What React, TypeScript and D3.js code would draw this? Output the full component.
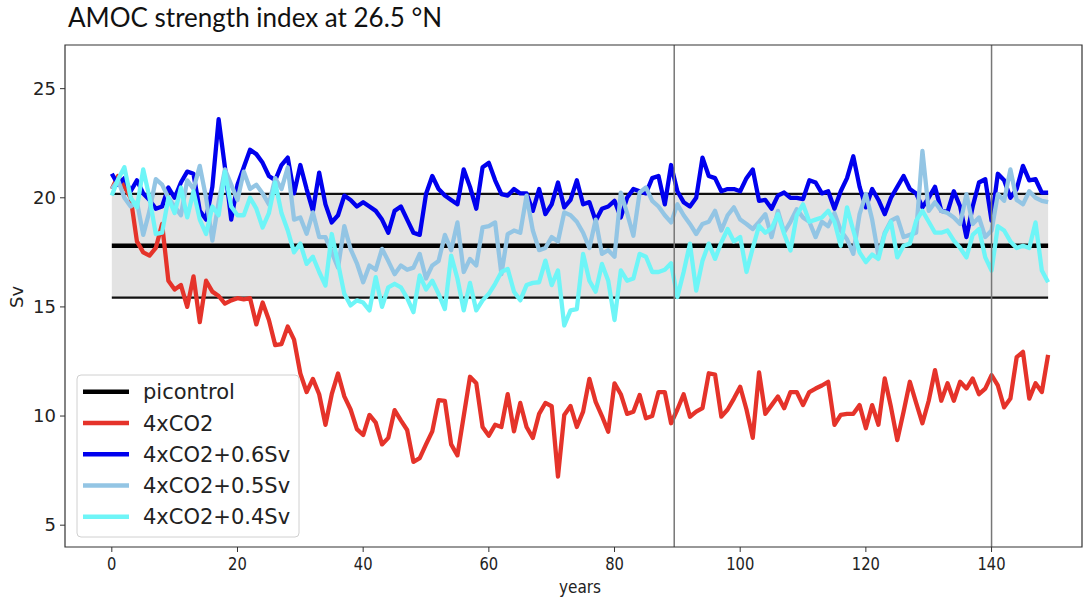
import React from "react";
import * as d3 from "d3";

const years: number[] = Array.from({ length: 150 }, (_, i) => i);

const co2: number[] = [
  20.4, 21.0, 20.5, 20.0, 18.0, 17.5, 17.35, 17.7, 18.8, 16.2,
  15.8, 16.0, 15.0, 16.4, 14.3, 16.2, 15.7, 15.5, 15.15, 15.3,
  15.4, 15.35, 15.4, 14.2, 15.2, 14.4, 13.25, 13.3, 14.1, 13.5,
  11.95, 11.1, 11.7, 11.0, 9.6, 11.0, 11.95, 10.9, 10.3, 9.4,
  9.13, 10.05, 9.7, 8.7, 9.0, 10.27, 9.8, 9.36, 7.9, 8.07,
  8.7, 9.3, 10.73, 10.7, 8.7, 8.2, 10.0, 11.8, 11.5, 9.5,
  9.1, 9.6, 9.5, 11.0, 9.3, 10.6, 9.5, 9.0, 10.1, 10.6,
  10.45, 7.23, 10.05, 10.46, 9.5, 10.2, 11.7, 10.65, 10.0, 9.28,
  11.5, 11.0, 10.1, 10.2, 10.96, 9.9, 10.0, 11.1, 11.1, 9.67,
  10.3, 11.0, 9.97, 10.2, 10.36, 11.96, 11.9, 9.97, 10.3, 10.8,
  11.34, 10.3, 9.0, 12.0, 10.1, 10.5, 10.9, 10.36, 11.1, 11.1,
  10.5, 11.1, 11.26, 11.4, 11.57, 9.6, 10.05, 10.1, 10.1, 10.5,
  9.44, 10.5, 9.6, 11.72, 10.4, 8.9, 10.2, 11.57, 10.6, 9.67,
  10.7, 12.1, 10.7, 11.5, 10.7, 11.57, 11.26, 11.72, 11.0, 11.26,
  11.87, 11.4, 10.4, 10.8, 12.7, 12.94, 10.8, 11.5, 11.1, 12.8,
];

const co2p06: number[] = [
  21.1, 20.6, 20.9, 20.3, 20.8, 20.2, 19.9, 19.5, 19.6, 20.47,
  20.0, 20.7, 21.2, 21.1, 19.4, 19.0, 20.5, 23.6, 21.4, 19.0,
  20.6, 21.4, 22.2, 22.0, 21.6, 21.0, 20.8, 21.5, 21.84, 20.2,
  21.5, 20.4, 19.4, 21.15, 19.7, 18.87, 19.2, 20.1, 19.9, 19.6,
  19.8, 19.6, 19.4, 19.0, 18.4, 19.4, 19.6, 19.0, 18.4, 18.3,
  20.17, 21.0, 20.4, 20.1, 19.9, 19.7, 21.3, 20.5, 19.5, 21.4,
  21.6, 20.8, 20.17, 20.1, 20.4, 20.2, 20.2, 19.4, 20.4, 19.25,
  19.7, 20.7, 19.56, 19.9, 20.8, 19.7, 19.8, 18.95, 19.5, 19.6,
  19.86, 19.1, 20.0, 20.4, 20.3, 20.2, 20.9, 21.0, 19.7, 21.5,
  20.3, 19.8, 19.6, 20.0, 21.84, 21.0, 20.9, 20.3, 20.4, 20.4,
  20.3, 20.9, 21.3, 19.86, 19.9, 19.5, 20.1, 20.24, 20.0, 20.0,
  19.94, 20.8, 20.7, 20.2, 20.3, 19.5, 20.3, 20.9, 21.9, 20.5,
  19.56, 20.4, 19.9, 19.25, 20.0, 20.5, 21.0, 20.4, 20.2, 19.56,
  20.0, 20.5, 19.4, 19.35, 20.3, 19.6, 18.2, 19.6, 20.7, 20.85,
  18.95, 21.1, 20.8, 20.0, 20.4, 21.46, 20.8, 20.85, 20.24, 20.24,
];

const co2p05: number[] = [
  20.4, 20.8, 20.0, 19.6, 19.8, 18.3, 19.4, 20.85, 20.6, 20.0,
  19.6, 19.2, 20.8, 20.4, 21.46, 20.0, 18.04, 19.8, 21.3, 20.6,
  19.9, 21.2, 20.4, 20.6, 20.2, 19.7, 20.9, 20.4, 21.4, 19.0,
  19.1, 18.35, 19.33, 18.2, 18.2, 17.5, 16.8, 18.7, 17.65, 17.0,
  16.13, 16.9, 16.7, 17.66, 17.1, 16.5, 16.9, 16.7, 16.8, 17.43,
  16.3, 16.9, 17.1, 18.3, 17.6, 18.87, 16.6, 17.2, 16.9, 18.64,
  18.7, 18.87, 16.5, 18.34, 18.5, 18.4, 20.1, 18.5, 17.6, 17.7,
  18.2, 18.0, 19.33, 19.2, 18.9, 18.4, 17.7, 19.0, 17.43, 17.6,
  17.3, 20.24, 19.3, 18.26, 20.24, 20.47, 19.86, 19.6, 19.2, 18.87,
  19.7, 19.2, 18.8, 18.34, 18.8, 18.9, 19.4, 18.5, 19.2, 19.56,
  19.0, 18.8, 18.57, 18.9, 19.25, 18.2, 19.4, 18.42, 18.9, 19.48,
  19.1, 18.9, 18.2, 18.9, 18.7, 19.3, 18.5, 18.1, 17.43, 19.25,
  20.17, 19.0, 17.35, 18.4, 18.95, 19.1, 18.2, 18.3, 18.4, 22.15,
  19.4, 19.8, 19.4, 19.3, 19.1, 18.8, 20.17, 18.8, 19.1, 18.2,
  18.5, 20.17, 19.86, 21.3, 19.9, 19.7, 20.3, 20.0, 19.86, 19.8,
];

const co2p04: number[] = [
  20.1, 20.85, 21.4, 20.0, 19.56, 21.3, 20.0, 18.34, 18.4, 20.0,
  19.3, 20.47, 19.1, 20.3, 19.0, 18.34, 19.6, 19.2, 21.2, 19.6,
  19.2, 19.2, 20.0, 19.5, 18.64, 19.3, 20.7, 19.3, 18.5, 17.5,
  17.9, 16.97, 17.3, 16.6, 15.98, 18.34, 17.0, 15.6, 15.07, 15.3,
  15.2, 14.84, 16.36, 15.0, 15.9, 16.06, 15.9, 15.4, 14.76, 16.44,
  15.8, 16.2, 15.6, 14.9, 17.35, 16.3, 14.84, 16.1, 14.84, 15.3,
  15.6, 16.06, 16.6, 16.74, 15.7, 15.3, 16.0, 16.1, 16.13, 17.12,
  16.0, 16.67, 14.15, 14.84, 14.9, 17.43, 16.2, 15.7, 16.97, 16.2,
  14.4, 16.67, 16.2, 16.3, 17.43, 17.3, 16.6, 16.6, 16.7, 17.0,
  15.45, 16.6, 17.9, 15.75, 17.12, 17.9, 17.2, 17.96, 18.57, 18.0,
  18.2, 16.6, 17.7, 18.72, 18.4, 18.6, 19.25, 18.34, 17.58, 19.2,
  19.7, 18.9, 19.0, 19.1, 19.4, 18.9, 17.8, 19.56, 18.5, 17.5,
  17.05, 17.4, 17.2, 18.34, 18.9, 17.27, 17.8, 17.9, 18.95, 19.4,
  18.9, 18.4, 18.4, 18.5, 18.04, 17.7, 17.27, 18.3, 18.57, 17.27,
  16.67, 18.7, 18.5, 18.0, 17.7, 17.8, 17.7, 18.87, 16.67, 16.13,
];

const picontrolMean = 17.8;
const picontrolLow = 15.43;
const picontrolHigh = 20.18;
const markerYears: number[] = [89.5, 140];

const xTicks: number[] = [0, 20, 40, 60, 80, 100, 120, 140];
const yTicks: number[] = [5, 10, 15, 20, 25];

const seriesNames: string[] = ["picontrol", "4xCO2", "4xCO2+0.6Sv", "4xCO2+0.5Sv", "4xCO2+0.4Sv"];
const seriesColors: string[] = ["#000000", "#e5332a", "#0000ee", "#93c5e4", "#6ef5f7"];

const W = 1084;
const H = 598;
const L = 65;
const T = 45;
const B = 547;

export default function App() {
  const x = d3.scaleLinear().domain([-7.45, 156.45]).range([L, L + 164 * 6.28]);
  const y = d3.scaleLinear().domain([4, 27]).range([B, T]);
  const R = W - 2;

  const line = d3
    .line<number>()
    .x((_, i) => x(years[i]))
    .y((d) => y(d));

  const data = [co2, co2p06, co2p05, co2p04];
  const x0 = x(years[0]);
  const x1 = x(years[years.length - 1]);

  return (
    <div style={{ position: "absolute", left: 0, top: 0 }}>
      <svg width={W} height={H} style={{ display: "block", background: "#fff" }}>
        <text x={68} y={27} fontFamily="Lato" fontSize={26} fill="#111">
          AMOC strength index at 26.5 °N
        </text>
        <defs>
          <clipPath id="plot">
            <rect x={L} y={T} width={R - L} height={B - T} />
          </clipPath>
        </defs>
        <rect x={x0} y={y(picontrolHigh)} width={x1 - x0} height={y(picontrolLow) - y(picontrolHigh)} fill="#e3e3e3" />
        <line x1={x0} x2={x1} y1={y(picontrolHigh)} y2={y(picontrolHigh)} stroke="#111" strokeWidth={2.2} />
        <line x1={x0} x2={x1} y1={y(picontrolLow)} y2={y(picontrolLow)} stroke="#111" strokeWidth={2.2} />
        <line x1={x0} x2={x1} y1={y(picontrolMean)} y2={y(picontrolMean)} stroke="#000" strokeWidth={4.5} />
        <g clipPath="url(#plot)">
          {data.map((d, k) => (
            <path key={k} d={line(d) || ""} fill="none" stroke={seriesColors[k + 1]} strokeWidth={4.3} strokeLinejoin="round" strokeLinecap="butt" />
          ))}
        </g>
        {markerYears.map((m) => (
          <line key={m} x1={x(m)} x2={x(m)} y1={T} y2={B} stroke="#777" strokeWidth={1.5} />
        ))}
        <path d={`M${L},${T}H${R}V${B}H${L}Z`} fill="none" stroke="#333" strokeWidth={1.2} />
        {yTicks.map((t) => (
          <g key={t}>
            <line x1={L - 5} x2={L} y1={y(t)} y2={y(t)} stroke="#333" strokeWidth={1} />
            <text x={L - 9} y={y(t)} dy="0.35em" textAnchor="end" fontFamily="DejaVu Sans" fontSize={18} fill="#222">
              {t}
            </text>
          </g>
        ))}
        {xTicks.map((t) => (
          <g key={t}>
            <line x1={x(t)} x2={x(t)} y1={B} y2={B + 5} stroke="#333" strokeWidth={1} />
            <text
              transform={`translate(${x(t)},${B + 23}) scale(0.82,1)`}
              textAnchor="middle"
              fontFamily="DejaVu Sans"
              fontSize={18}
              fill="#222"
            >
              {t}
            </text>
          </g>
        ))}
        <text transform={`translate(580,${593}) scale(0.85,1)`} textAnchor="middle" fontFamily="DejaVu Sans" fontSize={18} fill="#222">
          years
        </text>
        <text transform={`translate(23,297) rotate(-90)`} textAnchor="middle" fontFamily="DejaVu Sans" fontSize={18} fill="#222">
          Sv
        </text>
        <g>
          <rect x={77} y={375} width={222} height={162} rx={4} fill="#fff" fillOpacity={0.85} stroke="#d0d0d0" strokeWidth={1} />
          {seriesNames.map((n, i) => {
            const cy = 391.7 + i * 31.25;
            return (
              <g key={n}>
                <line x1={83} x2={129} y1={cy} y2={cy} stroke={seriesColors[i]} strokeWidth={4.5} />
                <text x={143} y={cy} dy="0.36em" fontFamily="DejaVu Sans" fontSize={21} fill="#222">
                  {n}
                </text>
              </g>
            );
          })}
        </g>
      </svg>
    </div>
  );
}
